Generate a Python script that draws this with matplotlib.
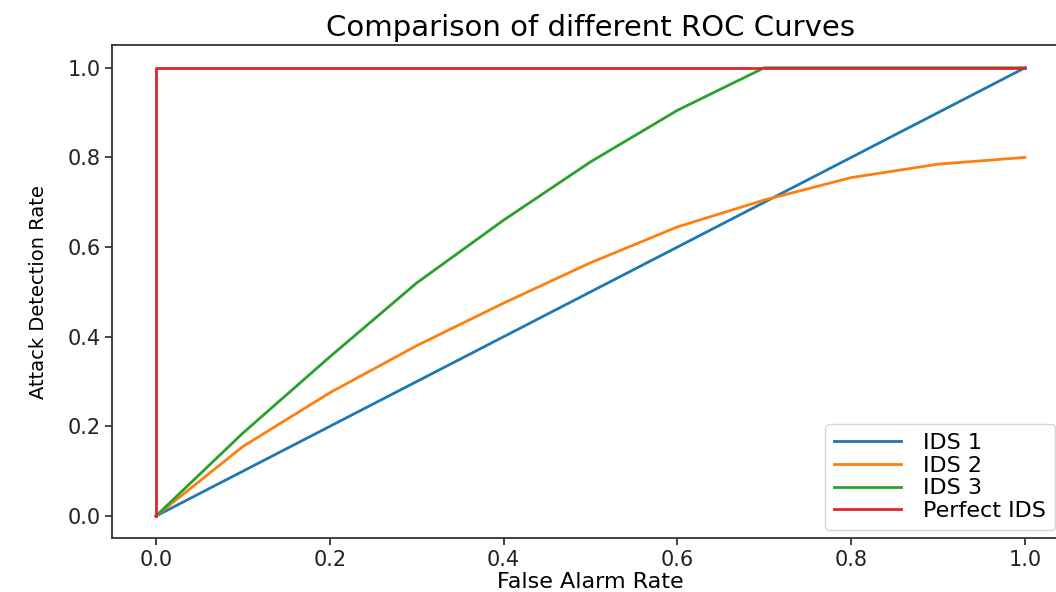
#!/usr/bin/env python3
"""ROC curve comparison of three IDS against a perfect IDS."""

import matplotlib

matplotlib.use("Agg")
import matplotlib.pyplot as plt

# False alarm rate grid and detection rates
far = [0.0, 0.1, 0.2, 0.3, 0.4, 0.5, 0.6, 0.7, 0.8, 0.9, 1.0]
ids1 = [0.0, 0.1, 0.2, 0.3, 0.4, 0.5, 0.6, 0.7, 0.8, 0.9, 1.0]
ids2 = [0.0, 0.155, 0.275, 0.38, 0.475, 0.565, 0.645, 0.705, 0.755, 0.785, 0.80]
ids3 = [0.0, 0.185, 0.355, 0.52, 0.66, 0.79, 0.905, 1.0, 1.0, 1.0, 1.0]
perfect_x = [0.0, 0.0, 1.0]
perfect_y = [0.0, 1.0, 1.0]

labels = ["IDS 1", "IDS 2", "IDS 3", "Perfect IDS"]
ticks = [0.0, 0.2, 0.4, 0.6, 0.8, 1.0]


def main() -> None:
    fig = plt.figure(figsize=(10.56, 5.92), dpi=100)
    # right spine falls just outside the picture, as in the reference
    ax = fig.add_axes([0.1065, 0.0904, 0.9053, 0.8330])

    ax.plot(far, ids1, color="#1f77b4", lw=2, label=labels[0])
    ax.plot(far, ids2, color="#ff7f0e", lw=2, label=labels[1])
    ax.plot(far, ids3, color="#2ca02c", lw=2, label=labels[2])
    ax.plot(perfect_x, perfect_y, color="#e3222f", lw=2, label=labels[3])

    ax.set_xlim(-0.05, 1.05)
    ax.set_ylim(-0.05, 1.05)
    ax.set_xticks(ticks)
    ax.set_yticks(ticks)
    ax.tick_params(labelsize=15, length=5, width=1.2, colors="#222222")
    for sp in ax.spines.values():
        sp.set_linewidth(1.3)
        sp.set_color("#333333")

    ax.set_title("Comparison of different ROC Curves", fontsize=21, pad=7)
    ax.set_xlabel("False Alarm Rate", fontsize=16, labelpad=1)
    ax.set_ylabel("Attack Detection Rate", fontsize=14, labelpad=14)

    ax.legend(
        loc="lower right",
        bbox_to_anchor=(1055 / 1056, 1 - 530 / 592),
        bbox_transform=fig.transFigure,
        fontsize=16,
        borderaxespad=0,
        handlelength=3.0,
        handletextpad=1.0,
        labelspacing=0.12,
        borderpad=0.4,
    )

    fig.savefig("out.png", dpi=100)
    plt.close(fig)


if __name__ == "__main__":
    main()
